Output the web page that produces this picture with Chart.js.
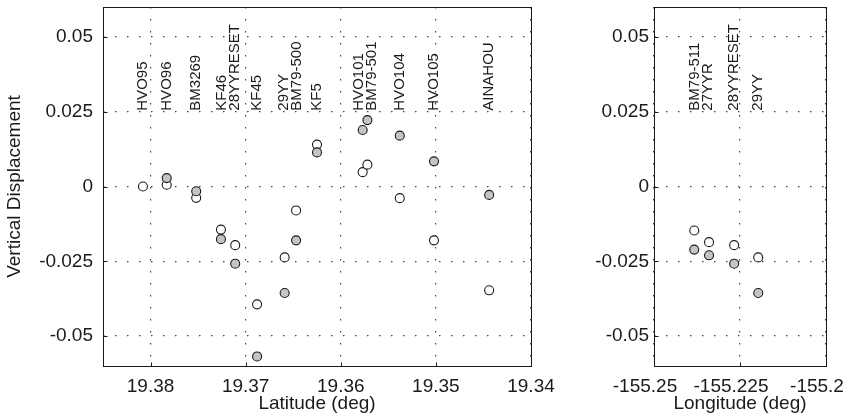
<!DOCTYPE html>
<html>
<head>
<meta charset="utf-8">
<script src="https://cdn.jsdelivr.net/npm/chart.js@4.4.1/dist/chart.umd.min.js"></script>
<style>
  html, body { margin: 0; padding: 0; background: #fff; overflow: hidden; }
  #wrap { position: relative; width: 849px; height: 418px; overflow: hidden; }
  .panel { position: absolute; top: 0; height: 418px; }
  #panelLat { left: 0; width: 560px; }
  #panelLon { left: 560px; width: 300px; }
</style>
</head>
<body>
<div id="wrap">
  <div class="panel" id="panelLat"><canvas id="chartLat" width="560" height="418"></canvas></div>
  <div class="panel" id="panelLon"><canvas id="chartLon" width="300" height="418"></canvas></div>
</div>
<script>
// -- Latitude profile --
const latStations = ['HVO95', 'HVO96', 'BM3269', 'KF46', '28YYRESET', 'KF45', '29YY', 'BM79-500',
                     'KF5', 'HVO101', 'BM79-501', 'HVO104', 'HVO105', 'AINAHOU'];
const latPos = [19.3808, 19.3783, 19.3752, 19.3726, 19.3711, 19.3688, 19.3659, 19.3647,
                19.3625, 19.3577, 19.3572, 19.3538, 19.3502, 19.3444];
const latOpen = [0.0, 0.0006, -0.0038, -0.0144, -0.0196, -0.0394, -0.0237, -0.0080,
                 0.0140, 0.0048, 0.0073, -0.0039, -0.0180, -0.0347];
const latGray = [null, 0.0028, -0.0016, -0.0176, -0.0258, -0.0568, -0.0356, -0.0180,
                 0.0114, 0.0189, 0.0222, 0.0170, 0.0084, -0.0028];
const latGroups = [['HVO95'], ['HVO96'], ['BM3269'], ['KF46', '28YYRESET'], ['KF45'],
                   ['29YY', 'BM79-500'], ['KF5'], ['HVO101', 'BM79-501'], ['HVO104'],
                   ['HVO105'], ['AINAHOU']];
const latTicks = [19.38, 19.37, 19.36, 19.35, 19.34];
const latTickLabels = ['19.38', '19.37', '19.36', '19.35', '19.34'];

// -- Longitude profile --
const lonStations = ['BM79-511', '27YYR', '28YYRESET', '29YY'];
const lonPos = [-155.2383, -155.2340, -155.2267, -155.2197];
const lonOpen = [-0.0147, -0.0186, -0.0196, -0.0237];
const lonGray = [-0.0211, -0.0230, -0.0258, -0.0356];
const lonGroups = [['BM79-511', '27YYR'], ['28YYRESET'], ['29YY']];
const lonTicks = [-155.25, -155.225, -155.2];
const lonTickLabels = ['-155.25', '-155.225', '-155.2'];

// shared vertical axis
const dispTicks = [-0.05, -0.025, 0, 0.025, 0.05];
const dispTickLabels = ['-0.05', '-0.025', '0', '0.025', '0.05'];
const labelBase = 0.025;

const FONT = "'Liberation Sans', Arial, Helvetica, sans-serif";

function toPoints(xs, ys) {
  const pts = [];
  xs.forEach((x, i) => { if (ys[i] !== null) pts.push({ x, y: ys[i] }); });
  return pts;
}

// frame box, inward tick marks and rotated station names
const frameLabels = {
  id: 'frameLabels',
  afterDatasetsDraw(chart, args, opts) {
    const { ctx, chartArea: a, scales } = chart;
    const l = Math.round(a.left) + 0.5, t = Math.round(a.top) + 0.5;
    const r = Math.round(a.right) + 0.5, b = Math.round(a.bottom) + 0.5;

    ctx.save();
    ctx.strokeStyle = '#1a1a1a';
    ctx.lineWidth = 1;
    ctx.strokeRect(l, t, r - l, b - t);
    ctx.beginPath();
    scales.x.ticks.forEach(tk => {
      const px = Math.round(scales.x.getPixelForValue(tk.value)) + 0.5;
      ctx.moveTo(px, b); ctx.lineTo(px, b - 4);
    });
    scales.y.ticks.forEach(tk => {
      const py = Math.round(scales.y.getPixelForValue(tk.value)) + 0.5;
      ctx.moveTo(l, py); ctx.lineTo(l + 4, py);
    });
    ctx.stroke();

    // station names, one column per line, reading upward
    ctx.fillStyle = '#1a1a1a';
    ctx.font = '15px ' + FONT;
    ctx.textAlign = 'left';
    ctx.textBaseline = 'middle';
    const y0 = scales.y.getPixelForValue(labelBase) - 1;
    opts.groups.forEach(group => {
      const xs = group.map(n => scales.x.getPixelForValue(opts.pos[opts.names.indexOf(n)]));
      const cx = xs.reduce((s, v) => s + v, 0) / xs.length;
      group.forEach((name, i) => {
        const x = cx + (i - (group.length - 1) / 2) * 13;
        ctx.save();
        ctx.translate(x, y0);
        ctx.rotate(-Math.PI / 2);
        ctx.fillText(name, 0, 0);
        ctx.restore();
      });
    });
    ctx.restore();
  }
};

function makeChart(id, cfg) {
  const ctx = document.getElementById(id).getContext('2d');
  return new Chart(ctx, {
    type: 'scatter',
    data: {
      datasets: [{
        data: toPoints(cfg.pos, cfg.gray),
        backgroundColor: '#c4c4c4',
        borderColor: '#1a1a1a',
        borderWidth: 1.1,
        pointRadius: 4.5
      }, {
        data: toPoints(cfg.pos, cfg.open),
        backgroundColor: '#ffffff',
        borderColor: '#1a1a1a',
        borderWidth: 1.1,
        pointRadius: 4.5
      }]
    },
    options: {
      responsive: false,
      animation: false,
      layout: { padding: cfg.padding },
      plugins: {
        legend: { display: false },
        tooltip: { enabled: false },
        frameLabels: { groups: cfg.groups, names: cfg.names, pos: cfg.pos }
      },
      scales: {
        x: {
          type: 'linear',
          min: cfg.xMin,
          max: cfg.xMax,
          reverse: cfg.reverse,
          afterBuildTicks: s => { s.ticks = cfg.ticks.map(v => ({ value: v })); },
          afterFit: s => { s.height = 52; s.paddingLeft = 0; s.paddingRight = 0; },
          grid: { color: '#444', lineWidth: 1.2, drawTicks: false },
          border: { display: false, dash: [1.5, 10.5] },
          ticks: {
            autoSkip: false,
            maxRotation: 0,
            padding: 9,
            labelOffset: cfg.labelOffset,
            color: '#1a1a1a',
            font: { family: FONT, size: 19 },
            callback: (v, i) => cfg.tickLabels[i]
          },
          title: {
            display: true,
            text: cfg.xTitle,
            color: '#1a1a1a',
            font: { family: FONT, size: 19 },
            padding: { top: 0, bottom: 3 }
          }
        },
        y: {
          type: 'linear',
          min: -0.06,
          max: 0.06,
          afterBuildTicks: s => { s.ticks = dispTicks.map(v => ({ value: v })); },
          afterFit: s => { s.width = cfg.yWidth; s.paddingTop = 0; s.paddingBottom = 0; },
          grid: { color: '#444', lineWidth: 1.2, drawTicks: false },
          border: { display: false, dash: [1.5, 10.5] },
          ticks: {
            autoSkip: false,
            padding: cfg.yPad,
            color: '#1a1a1a',
            font: { family: FONT, size: 19 },
            callback: (v, i) => dispTickLabels[i]
          },
          title: {
            display: !!cfg.yTitle,
            text: cfg.yTitle,
            color: '#1a1a1a',
            font: { family: FONT, size: 19 },
            padding: { top: 3, bottom: 0 }
          }
        }
      }
    },
    plugins: [frameLabels]
  });
}

makeChart('chartLat', {
  names: latStations, pos: latPos, open: latOpen, gray: latGray, groups: latGroups,
  ticks: latTicks, tickLabels: latTickLabels,
  xMin: 19.34, xMax: 19.385, reverse: true, labelOffset: 0,
  xTitle: 'Latitude (deg)', yTitle: 'Vertical Displacement',
  yWidth: 103, yPad: 10,
  padding: { top: 7, right: 29, bottom: 0, left: 0 }
});

makeChart('chartLon', {
  names: lonStations, pos: lonPos, open: lonOpen, gray: lonGray, groups: lonGroups,
  ticks: lonTicks, tickLabels: lonTickLabels,
  xMin: -155.25, xMax: -155.2, reverse: false, labelOffset: -9,
  xTitle: 'Longitude (deg)', yTitle: '',
  yWidth: 94, yPad: 5,
  padding: { top: 7, right: 34, bottom: 0, left: 0 }
});
</script>
</body>
</html>
